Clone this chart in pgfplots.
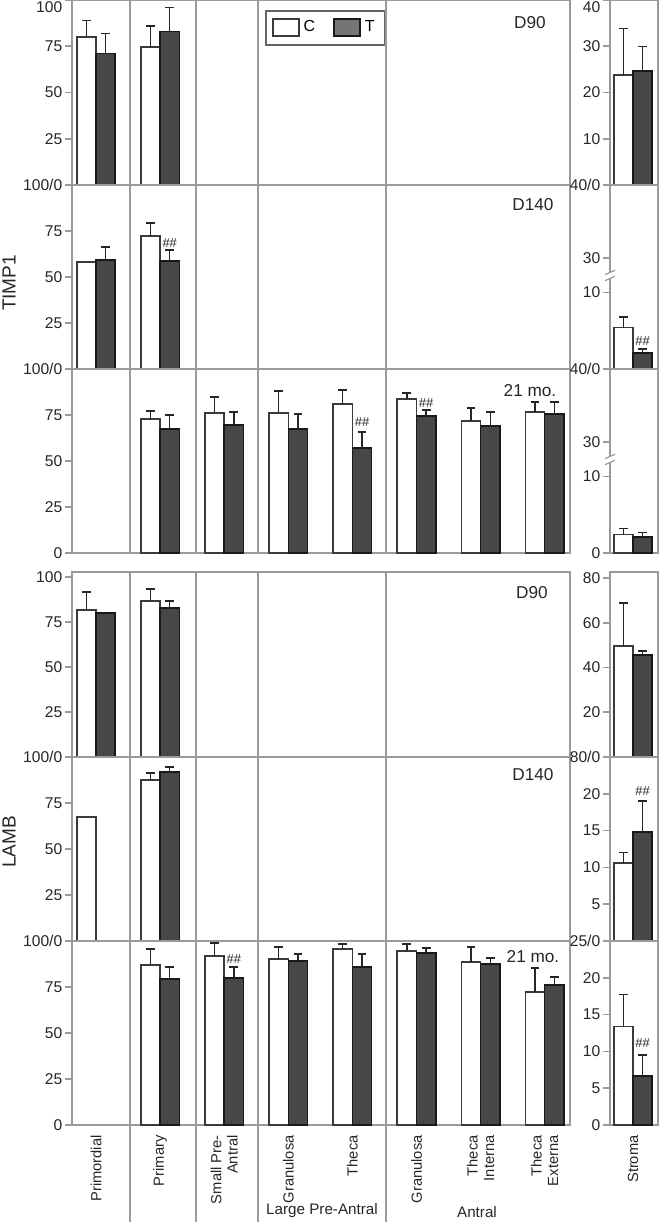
\documentclass[border=0pt]{standalone}
\usepackage{fontspec}
\setmainfont{Liberation Sans}
\usepackage{pgfplots}
\pgfplotsset{compat=1.18}
\definecolor{framegray}{HTML}{9A9A9A}
\definecolor{bardark}{HTML}{3A3A3A}
\definecolor{tgray}{HTML}{474747}
\pgfplotsset{
 base/.style={scale only axis, anchor=north west, clip=false, ymin=0, enlargelimits=false,
   axis line style={draw=framegray, line width=0.8pt},
   ytick pos=left, tick align=outside, major tick length=3.5pt,
   tick style={draw=framegray, line width=0.8pt},
   xtick=\empty,
   yticklabel style={font=\fontsize{7.8}{8}\selectfont, inner sep=1.2pt, text=black!85},
   xticklabel style={font=\fontsize{7.35}{8.2}\selectfont, rotate=90, anchor=east, align=right, inner sep=1.5pt, text=black!85},
 },
 leftp/.style={base, width=249pt, xmin=-0.375, xmax=7.395},
 rightp/.style={base, width=24pt, xmin=-0.36, xmax=0.39},
 cbar/.style={ybar, bar width=0.3, bar shift=0pt, fill=white, draw=bardark, line width=0.8pt},
 tbar/.style={ybar, bar width=0.3, bar shift=0pt, fill=tgray, draw=black!90, line width=0.8pt},
 errs/.style={forget plot, draw=none, mark=none, error bars/.cd, y dir=plus, y explicit, error mark=|,
   error bar style={draw=black!85, line width=0.7pt},
   error mark options={draw=black!85, line width=0.7pt, mark size=2.2pt}},
}
\newcommand{\hh}{\fontsize{6.5}{7}\selectfont\#\#}
\tikzset{lab/.style={font=\fontsize{8.6}{9}\selectfont, text=black!85},
  hash/.style={text=black!85, inner sep=0pt}}
\newcommand{\brk}[1]{%
  \fill[white] ([xshift=-2.5pt,yshift=-1.2pt]axis cs:-0.36,#1) rectangle ([xshift=2.5pt,yshift=1.2pt]axis cs:-0.36,#1);
  \draw[framegray, line width=0.6pt] ([xshift=-2.5pt,yshift=-2.6pt]axis cs:-0.36,#1) -- ([xshift=2.5pt,yshift=-0.4pt]axis cs:-0.36,#1);
  \draw[framegray, line width=0.6pt] ([xshift=-2.5pt,yshift=0.4pt]axis cs:-0.36,#1) -- ([xshift=2.5pt,yshift=2.6pt]axis cs:-0.36,#1);}
\begin{document}
\begin{tikzpicture}
\useasboundingbox (0,0) rectangle (330pt,-611pt);

% ================= TIMP1 =================
% Row 1 D90
\begin{axis}[leftp, at={(36pt,0pt)}, height=92.5pt, ymax=100,
  ytick={0,25,50,75}, yticklabels={,25,50,75},
  extra y ticks={100}, extra y tick labels={100}, extra y tick style={yticklabel style={yshift=-3.5pt}},
  legend columns=2,
  legend style={at={(0.388,0.946)}, anchor=north west, draw=black!60, line width=0.8pt,
    font=\fontsize{8}{9}\selectfont, inner xsep=3pt, inner ysep=3pt,
    /tikz/every even column/.append style={column sep=7pt}}]
\addplot[cbar, legend image code/.code={\draw[fill=white, draw=bardark, line width=0.8pt] (0pt,-4.2pt) rectangle (13pt,4.5pt);}] coordinates {(-0.15,80) (0.85,74.5)};
\addlegendentry{C}
\addplot[tbar, legend image code/.code={\draw[fill=tgray!75, draw=black!90, line width=0.8pt] (0pt,-4.2pt) rectangle (13pt,4.5pt);}] coordinates {(0.15,71) (1.15,83)};
\addlegendentry{T}
\addplot[errs] coordinates {(-0.15,80) +- (0,9) (0.85,74.5) +- (0,11.5) (0.15,71) +- (0,11) (1.15,83) +- (0,13)};
\end{axis}
\begin{axis}[rightp, at={(305pt,0pt)}, height=92.5pt, ymax=40,
  ytick={0,10,20,30}, yticklabels={,10,20,30},
  extra y ticks={40}, extra y tick labels={40}, extra y tick style={yticklabel style={yshift=-3.5pt}}]
\addplot[cbar] coordinates {(-0.15,23.8)};
\addplot[tbar] coordinates {(0.15,24.7)};
\addplot[errs] coordinates {(-0.15,23.8) +- (0,10) (0.15,24.7) +- (0,5.3)};
\end{axis}

% Row 2 D140
\begin{axis}[leftp, at={(36pt,-92.5pt)}, height=92pt, ymax=100,
  ytick={0,25,50,75,100}, yticklabels={,25,50,75,100/0}]
\addplot[cbar] coordinates {(-0.15,58.2) (0.85,72.3)};
\addplot[tbar] coordinates {(0.15,59.2) (1.15,58.7)};
\addplot[errs] coordinates {(0.85,72.3) +- (0,7) (0.15,59.2) +- (0,7.1) (1.15,58.7) +- (0,6)};
\node[hash] at (axis cs:1.15,68.5) {\hh};
\end{axis}
\begin{axis}[rightp, at={(305pt,-92.5pt)}, height=92pt, ymax=24,
  ytick={0,10,14.5,24}, yticklabels={,10,30,40/0}]
\addplot[cbar] coordinates {(-0.15,5.4)};
\addplot[tbar] coordinates {(0.15,2.1)};
\addplot[errs] coordinates {(-0.15,5.4) +- (0,1.4) (0.15,2.1) +- (0,0.5)};
\node[hash] at (axis cs:0.15,3.65) {\hh};
\brk{12.2}
\end{axis}

% Row 3 21 mo.
\begin{axis}[leftp, at={(36pt,-184.5pt)}, height=92pt, ymax=100,
  ytick={0,25,50,75,100}, yticklabels={0,25,50,75,100/0}]
\addplot[cbar] coordinates {(0.85,72.8) (1.85,76) (2.85,76) (3.85,81) (4.85,83.7) (5.85,71.7) (6.85,76.6)};
\addplot[tbar] coordinates {(1.15,67.4) (2.15,69.6) (3.15,67.4) (4.15,57) (5.15,74.5) (6.15,69) (7.15,75.5)};
\addplot[errs] coordinates {(0.85,72.8) +- (0,4.4) (1.85,76) +- (0,8.8) (2.85,76) +- (0,12) (3.85,81) +- (0,7.6) (4.85,83.7) +- (0,3.3) (5.85,71.7) +- (0,7.1) (6.85,76.6) +- (0,5.4)};
\addplot[errs] coordinates {(1.15,67.4) +- (0,7.6) (2.15,69.6) +- (0,7) (3.15,67.4) +- (0,8.1) (4.15,57) +- (0,8.8) (5.15,74.5) +- (0,3.2) (6.15,69) +- (0,7.6) (7.15,75.5) +- (0,6.5)};
\node[hash] at (axis cs:4.15,71.2) {\hh};
\node[hash] at (axis cs:5.15,81.5) {\hh};
\end{axis}
\begin{axis}[rightp, at={(305pt,-184.5pt)}, height=92pt, ymax=24,
  ytick={0,10,14.5,24}, yticklabels={0,10,30,40/0}]
\addplot[cbar] coordinates {(-0.15,2.4)};
\addplot[tbar] coordinates {(0.15,2.1)};
\addplot[errs] coordinates {(-0.15,2.4) +- (0,0.8) (0.15,2.1) +- (0,0.6)};
\brk{12.2}
\end{axis}

% ================= LAMB =================
% Row 1 D90
\begin{axis}[leftp, at={(36pt,-286pt)}, height=92.5pt, ymax=102.8,
  ytick={0,25,50,75,100}, yticklabels={,25,50,75,100}]
\addplot[cbar] coordinates {(-0.15,81.7) (0.85,86.7)};
\addplot[tbar] coordinates {(0.15,80) (1.15,82.8)};
\addplot[errs] coordinates {(-0.15,81.7) +- (0,10) (0.85,86.7) +- (0,6.6) (1.15,82.8) +- (0,3.9)};
\end{axis}
\begin{axis}[rightp, at={(305pt,-286pt)}, height=92.5pt, ymax=82.7,
  ytick={0,20,40,60,80}, yticklabels={,20,40,60,80}]
\addplot[cbar] coordinates {(-0.15,49.6)};
\addplot[tbar] coordinates {(0.15,45.6)};
\addplot[errs] coordinates {(-0.15,49.6) +- (0,19.2) (0.15,45.6) +- (0,1.8)};
\end{axis}

% Row 2 D140
\begin{axis}[leftp, at={(36pt,-378.5pt)}, height=92pt, ymax=100,
  ytick={0,25,50,75,100}, yticklabels={,25,50,75,100/0}]
\addplot[cbar] coordinates {(-0.15,67.4) (0.85,87.5)};
\addplot[tbar] coordinates {(1.15,91.8)};
\addplot[errs] coordinates {(0.85,87.5) +- (0,3.8) (1.15,91.8) +- (0,2.8)};
\end{axis}
\begin{axis}[rightp, at={(305pt,-378.5pt)}, height=92pt, ymax=25,
  ytick={0,5,10,15,20,25}, yticklabels={,5,10,15,20,80/0}]
\addplot[cbar] coordinates {(-0.15,10.6)};
\addplot[tbar] coordinates {(0.15,14.8)};
\addplot[errs] coordinates {(-0.15,10.6) +- (0,1.4) (0.15,14.8) +- (0,4.2)};
\node[hash] at (axis cs:0.15,20.4) {\hh};
\end{axis}

% Row 3 21 mo.
\begin{axis}[leftp, at={(36pt,-470.5pt)}, height=92pt, ymax=100,
  ytick={0,25,50,75,100}, yticklabels={0,25,50,75,100/0},
  xtick={0,1,2,3,4,5,6,7}, xtick style={draw=none},
  xticklabels={Primordial, Primary, {Small Pre-\\Antral}, Granulosa, Theca, Granulosa, {Theca\\Interna}, {Theca\\Externa}}]
\addplot[cbar] coordinates {(0.85,87) (1.85,91.8) (2.85,90.2) (3.85,95.7) (4.85,94.6) (5.85,88.6) (6.85,72.3)};
\addplot[tbar] coordinates {(1.15,79.3) (2.15,79.9) (3.15,89.1) (4.15,85.9) (5.15,93.5) (6.15,87.5) (7.15,76.1)};
\addplot[errs] coordinates {(0.85,87) +- (0,8.7) (1.85,91.8) +- (0,7.1) (2.85,90.2) +- (0,6.5) (3.85,95.7) +- (0,2.7) (4.85,94.6) +- (0,3.8) (5.85,88.6) +- (0,8.1) (6.85,72.3) +- (0,13)};
\addplot[errs] coordinates {(1.15,79.3) +- (0,6.6) (2.15,79.9) +- (0,6) (3.15,89.1) +- (0,3.8) (4.15,85.9) +- (0,7) (5.15,93.5) +- (0,2.7) (6.15,87.5) +- (0,3.3) (7.15,76.1) +- (0,4.3)};
\node[hash] at (axis cs:2.15,90) {\hh};
\end{axis}
\begin{axis}[rightp, at={(305pt,-470.5pt)}, height=92pt, ymax=25,
  ytick={0,5,10,15,20,25}, yticklabels={0,5,10,15,20,25/0},
  xtick={0}, xtick style={draw=none}, xticklabels={Stroma}]
\addplot[cbar] coordinates {(-0.15,13.4)};
\addplot[tbar] coordinates {(0.15,6.7)};
\addplot[errs] coordinates {(-0.15,13.4) +- (0,4.3) (0.15,6.7) +- (0,2.8)};
\node[hash] at (axis cs:0.15,11.2) {\hh};
\end{axis}

% separators
\foreach \xx in {65,98,129,193} {
  \draw[framegray, line width=0.8pt] (\xx pt,0pt) -- (\xx pt,-276.5pt);
  \draw[framegray, line width=0.8pt] (\xx pt,-286pt) -- (\xx pt,-611pt);
}

% row labels
\node[lab] at (265pt,-11.5pt) {D90};
\node[lab] at (266.5pt,-102.5pt) {D140};
\node[lab] at (265pt,-195.5pt) {21 mo.};
\node[lab] at (266pt,-296.5pt) {D90};
\node[lab] at (266.5pt,-387.5pt) {D140};
\node[lab] at (266.5pt,-478.5pt) {21 mo.};

% y titles
\node[rotate=90, font=\fontsize{9.5}{10}\selectfont, text=black!85] at (4.5pt,-141.5pt) {TIMP1};
\node[rotate=90, font=\fontsize{9.5}{10}\selectfont, text=black!85] at (4.5pt,-421pt) {LAMB};

% group labels
\node[font=\fontsize{7.6}{8}\selectfont, text=black!85] at (161pt,-605.5pt) {Large Pre-Antral};
\node[font=\fontsize{7.6}{8}\selectfont, text=black!85] at (238.5pt,-606pt) {Antral};
\end{tikzpicture}
\end{document}
